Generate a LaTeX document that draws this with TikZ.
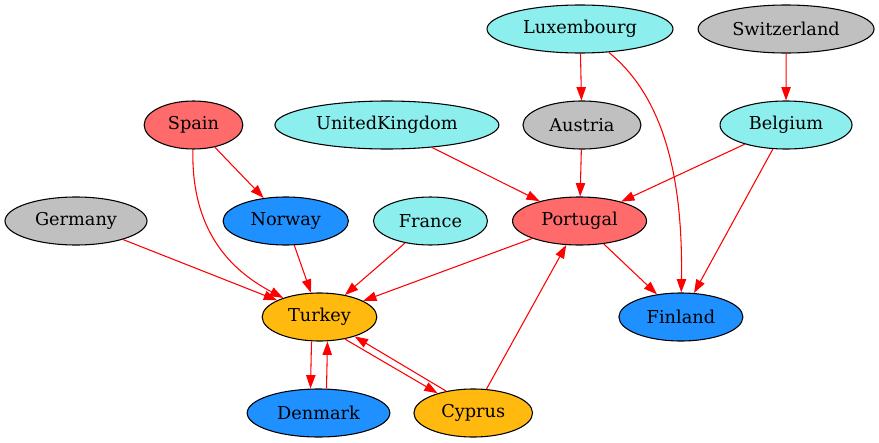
\documentclass[tikz,border=0pt]{standalone}
\usepackage{fontspec}
\setmainfont{DejaVu Serif}
\usetikzlibrary{arrows.meta, positioning, shapes.geometric}
\definecolor{cyanC}{HTML}{8DEEEE}
\definecolor{redC}{HTML}{FF6A6A}
\definecolor{greyC}{HTML}{C0C0C0}
\definecolor{blueC}{HTML}{1E90FF}
\definecolor{orangeC}{HTML}{FFB90F}

\begin{document}
\begin{tikzpicture}[x=0.75pt, y=-0.75pt, >={Triangle[length=10pt,width=7pt]},
  country/.style={ellipse, draw, line width=0.8pt, inner sep=0pt, minimum height=36pt, font=\fontsize{13.3}{16}\selectfont},
  link/.style={->, red, line width=0.8pt}]
\useasboundingbox (0,0) rectangle (879,443);
\node [country, fill=cyanC, minimum width=139.5pt] (Lux) at (580,29) {Luxembourg};
\node [right=18pt of Lux, country, fill=greyC, minimum width=132pt] (Swiss) {Switzerland};
\node [country, fill=redC, minimum width=74pt] (Spain) at (193.5,125) {Spain};
\node [right=23.25pt of Spain, country, fill=cyanC, minimum width=168pt] (UK) {UnitedKingdom};
\node [right=17.25pt of UK, country, fill=greyC, minimum width=88.5pt] (Austria) {Austria};
\node [right=58.5pt of Austria, country, fill=cyanC, minimum width=99pt] (Belgium) {Belgium};
\node [country, fill=greyC, minimum width=106.5pt] (Germany) at (76,221) {Germany};
\node [right=56.25pt of Germany, country, fill=blueC, minimum width=94pt] (Norway) {Norway};
\node [right=18pt of Norway, country, fill=cyanC, minimum width=85.5pt] (France) {France};
\node [right=18pt of France, country, fill=redC, minimum width=100.5pt] (Portugal) {Portugal};
\node [country, fill=orangeC, minimum width=86pt] (Turkey) at (319.5,317) {Turkey};
\node [right=180.75pt of Turkey, country, fill=blueC, minimum width=93pt] (Finland) {Finland};
\node [country, fill=blueC, minimum width=107pt] (Denmark) at (318.5,413) {Denmark};
\node [right=17.25pt of Denmark, country, fill=orangeC, minimum width=89pt] (Cyprus) {Cyprus};
\draw [link] (Lux) -- (Austria);
\draw [link] (Lux) .. controls (665,98) and (683,180) .. (Finland);
\draw [link] (Swiss) -- (Belgium);
\draw [link] (Spain) -- (Norway);
\draw [link] (Spain) .. controls (191,230) and (230,270) .. (Turkey);
\draw [link] (UK) -- (Portugal);
\draw [link] (Austria) -- (Portugal);
\draw [link] (Belgium) -- (Portugal);
\draw [link] (Belgium) -- (Finland);
\draw [link] (Germany) -- (Turkey);
\draw [link] (Norway) -- (Turkey);
\draw [link] (France) -- (Turkey);
\draw [link] (Portugal) -- (Turkey);
\draw [link] (Portugal) -- (Finland);
\draw [link] ([xshift=-6pt]Turkey.south) -- ([xshift=-6pt]Denmark.north);
\draw [link] ([xshift=6pt]Denmark.north) -- ([xshift=6pt]Turkey.south);
\draw [link] (Turkey.-41) -- (Cyprus.151);
\draw [link] (Cyprus.141) -- (Turkey.-29);
\draw [link] (Cyprus) -- (Portugal);
\end{tikzpicture}
\end{document}
